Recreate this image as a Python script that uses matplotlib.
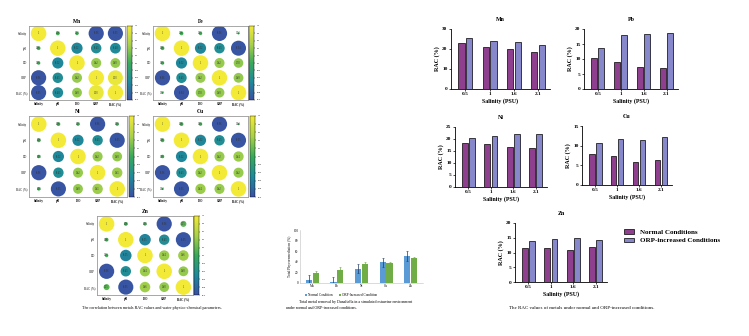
import numpy as np
import matplotlib
matplotlib.use("Agg")
import matplotlib.pyplot as plt
from matplotlib.colors import LinearSegmentedColormap

plt.rcParams["font.family"] = "serif"
plt.rcParams["font.serif"] = ["Liberation Serif", "DejaVu Serif"]

W, H = 749, 336

# --- correlation data (Salinity, pH, DO, ORP, RAC) ---
params = ["Salinity", "pH", "DO", "ORP", "RAC (%)"]
# upper triangle values: (Sal-pH, Sal-DO, Sal-ORP, Sal-RAC, pH-DO, pH-ORP, pH-RAC, DO-ORP, DO-RAC, ORP-RAC)
corr_mn = [0.06, 0.05, -0.96, -0.95, -0.52, -0.45, -0.48, 0.42, 0.40, 0.93]
corr_fe = [0.06, 0.05, -0.96, 0.02, -0.52, -0.45, -0.94, 0.42, 0.38, 0.40]
corr_ni = [0.06, 0.05, -0.96, 0.05, -0.52, -0.45, -0.95, 0.42, 0.40, 0.45]
corr_cu = [0.06, 0.05, -0.96, 0.02, -0.52, -0.45, -0.95, 0.42, 0.44, 0.42]
corr_zn = [0.06, 0.05, -0.96, 0.15, -0.55, -0.45, -0.95, 0.44, 0.46, 0.40]

# --- RAC bar data ---
salinity = ["0.5", "1", "1.6", "2.1"]
rac_normal = {
    "Mn": [23.2, 21.2, 20.1, 18.3],
    "Pb": [10.3, 9.1, 7.4, 6.9],
    "Ni": [18.5, 17.8, 16.5, 16.2],
    "Cu": [7.9, 7.5, 5.9, 6.4],
    "Zn": [11.4, 11.6, 10.8, 11.7],
}
rac_orp = {
    "Mn": [25.6, 24.1, 23.5, 22.1],
    "Pb": [13.7, 17.9, 18.2, 18.8],
    "Ni": [20.6, 21.3, 21.9, 21.9],
    "Cu": [10.7, 11.7, 11.4, 12.2],
    "Zn": [13.8, 14.6, 15.0, 14.1],
}
rac_ymax = {"Mn": 30, "Pb": 20, "Ni": 25, "Cu": 15, "Zn": 20}
rac_ystep = {"Mn": 10, "Pb": 5, "Ni": 5, "Cu": 5, "Zn": 5}

# --- total removal data ---
metals = ["Mn", "Pb", "Ni", "Cu", "Zn"]
removal_normal = [6, 2, 27, 39, 51]
removal_normal_err = [10, 10, 9, 9, 9]
removal_orp = [19, 25, 36, 38, 47]
removal_orp_err = [4, 5, 4, 2, 3]

fig = plt.figure(figsize=(W / 100, H / 100), dpi=100)


def ax_px(x0, y0, x1, y1):
    return fig.add_axes([x0 / W, 1 - y1 / H, (x1 - x0) / W, (y1 - y0) / H])


cmap = LinearSegmentedColormap.from_list(
    "corr", ["#3A4FA3", "#1E8A9A", "#38A95A", "#A9D14A", "#F2EA36"])


def full_matrix(vals):
    m = np.eye(5)
    k = 0
    for i in range(5):
        for j in range(i + 1, 5):
            m[i, j] = m[j, i] = vals[k]
            k += 1
    return m


def corr_panel(box, cbox, vals, title):
    m = full_matrix(vals)
    ax = ax_px(*box)
    ii, jj = np.meshgrid(range(5), range(5), indexing="ij")
    sc = ax.scatter(jj.ravel(), ii.ravel(), s=125 * np.abs(m.ravel()),
                    c=m.ravel(), cmap=cmap, vmin=-1, vmax=1, linewidths=0)
    for i in range(5):
        for j in range(5):
            v = m[i, j]
            txt = "1" if i == j else f"{v:.2f}"
            ax.text(j, i, txt, ha="center", va="center", fontsize=1.8,
                    color="#333333")
    ax.set_xlim(-0.5, 4.5)
    ax.set_ylim(4.5, -0.5)
    ax.set_xticks(range(5))
    ax.set_yticks(range(5))
    ax.set_xticklabels(params, fontsize=2.2, fontweight="bold")
    ax.set_yticklabels(params, fontsize=2.2)
    ax.tick_params(length=0, pad=1.5)
    for sp in ax.spines.values():
        sp.set_color("#999999")
        sp.set_linewidth(0.6)
    ax.set_title(title, fontsize=4, fontweight="bold", pad=2)
    cax = ax_px(*cbox)
    cb = fig.colorbar(sc, cax=cax, ticks=np.linspace(-1, 1, 11))
    cb.ax.tick_params(labelsize=1.6, length=1, width=0.3, pad=0.8)
    cb.outline.set_linewidth(0.3)


corr_panel((29, 26, 125, 100), (127, 26, 132, 100), corr_mn, "Mn")
corr_panel((153, 26, 248, 100), (249, 26, 254, 100), corr_fe, "Fe")
corr_panel((29, 116, 127, 197), (129, 116, 134, 197), corr_ni, "Ni")
corr_panel((153, 116, 248, 197), (250, 116, 255, 197), corr_cu, "Cu")
corr_panel((97, 216, 193, 295), (194, 216, 199, 295), corr_zn, "Zn")

fig.text(152 / W, 1 - 308 / H,
         "The correlation between metals RAC values and water physico-chemical parameters.",
         ha="center", va="center", fontsize=3.0)

# --- total removal bar chart ---
ax = ax_px(300, 230, 423, 283)
x = np.arange(len(metals))
bw = 0.25
ax.bar(x - 0.14, removal_normal, bw, color="#5B9BD5", label="Normal Condition",
       yerr=removal_normal_err, error_kw=dict(ecolor="#1F3864", elinewidth=0.5, capsize=1, capthick=0.4))
ax.bar(x + 0.14, removal_orp, bw, color="#70AD47", label="ORP-Increased Condition",
       yerr=removal_orp_err, error_kw=dict(ecolor="#70AD47", elinewidth=0.5, capsize=1, capthick=0.4))
ax.set_xlim(-0.5, 4.5)
ax.set_ylim(0, 100)
ax.set_yticks(range(0, 101, 20))
ax.set_xticks(x)
ax.set_xticklabels(metals, fontsize=2.6)
ax.tick_params(labelsize=2.4, length=0, pad=1)
ax.set_ylabel("Total Phycoremediation (%)", fontsize=2.6, labelpad=1)
for s in ["top", "right"]:
    ax.spines[s].set_visible(False)
for s in ["left", "bottom"]:
    ax.spines[s].set_color("#BFBFBF")
    ax.spines[s].set_linewidth(0.4)
ax.legend(loc="upper center", bbox_to_anchor=(0.33, -0.13), ncol=2, frameon=False,
          fontsize=2.4, handlelength=0.6, handleheight=0.6, columnspacing=2, handletextpad=0.3)
fig.text(299 / W, 1 - 302 / H,
         "Total metal removal by Dunaliella in a simulated estuarine environment",
         ha="left", va="center", fontsize=2.9)
fig.text(286 / W, 1 - 308 / H,
         "under normal and ORP-increased conditions.",
         ha="left", va="center", fontsize=2.9)

# --- RAC bar charts ---
purple = "#8E3F8E"
lav = "#8787CB"


def rac_panel(box, metal, legend=False):
    ax = ax_px(*box)
    x = np.arange(len(salinity))
    bw = 0.26
    ax.bar(x - 0.16, rac_normal[metal], bw, color=purple, edgecolor="black",
           linewidth=0.5, label="Normal Conditions")
    ax.bar(x + 0.16, rac_orp[metal], bw, color=lav, edgecolor="black",
           linewidth=0.5, label="ORP-increased Conditions")
    ax.set_xlim(-0.6, 3.5)
    ax.set_ylim(0, rac_ymax[metal])
    ax.set_yticks(range(0, rac_ymax[metal] + 1, rac_ystep[metal]))
    ax.set_xticks(x)
    ax.set_xticklabels(salinity)
    ax.tick_params(labelsize=3.8, length=1.5, width=0.5, pad=1)
    for lbl in ax.get_xticklabels() + ax.get_yticklabels():
        lbl.set_fontweight("bold")
    for s in ["top", "right"]:
        ax.spines[s].set_visible(False)
    for s in ["left", "bottom"]:
        ax.spines[s].set_linewidth(0.6)
    ax.set_ylabel("RAC (%)", fontsize=4.3, fontweight="bold", labelpad=1.5)
    ax.set_xlabel("Salinity (PSU)", fontsize=4.3, fontweight="bold", labelpad=1.5)
    ax.set_title(metal, fontsize=4.3, fontweight="bold", pad=6)
    if legend:
        ax.legend(loc="upper left", bbox_to_anchor=(1.12, 1.0), frameon=False,
                  prop=dict(size=5, weight="bold"), handlelength=1.4,
                  handleheight=0.6, labelspacing=0.4, handletextpad=0.8)


rac_panel((451, 29, 550, 89), "Mn")
rac_panel((584, 29, 678, 89), "Pb")
rac_panel((455, 127, 547, 187), "Ni")
rac_panel((582, 126, 672, 185), "Cu")
rac_panel((515, 223, 607, 282), "Zn", legend=True)

fig.text(582 / W, 1 - 308 / H,
         "The RAC values of metals under normal and ORP-increased conditions.",
         ha="center", va="center", fontsize=3.6)

fig.savefig("out.png", dpi=100)
